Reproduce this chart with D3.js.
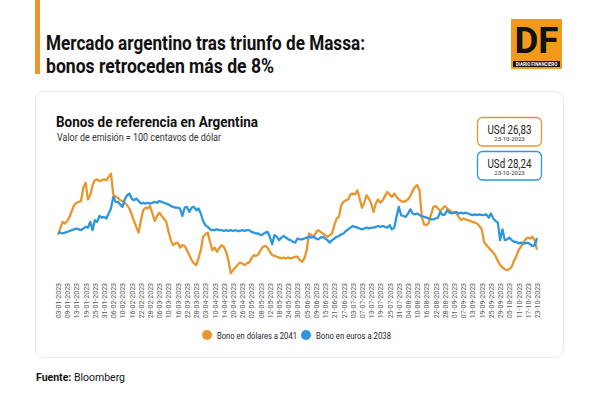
<!DOCTYPE html>
<html><head><meta charset="utf-8">
<script src="https://cdn.jsdelivr.net/npm/d3@7"></script>
<style>body{margin:0;background:#fff;} svg{display:block;font-family:Roboto, "Noto Sans", sans-serif;}</style>
</head><body><svg id="c" width="600" height="400"></svg>
<script>
const tickLabels = ["03-01-2023","09-01-2023","13-01-2023","19-01-2023","25-01-2023","31-01-2023","06-02-2023","10-02-2023","16-02-2023","22-02-2023","28-02-2023","06-03-2023","10-03-2023","16-03-2023","22-03-2023","28-03-2023","03-04-2023","10-04-2023","14-04-2023","20-04-2023","26-04-2023","02-05-2023","08-05-2023","12-05-2023","18-05-2023","24-05-2023","30-05-2023","05-06-2023","09-06-2023","15-06-2023","21-06-2023","27-06-2023","03-07-2023","07-07-2023","13-07-2023","19-07-2023","25-07-2023","31-07-2023","04-08-2023","10-08-2023","16-08-2023","22-08-2023","28-08-2023","01-09-2023","07-09-2023","13-09-2023","19-09-2023","25-09-2023","29-09-2023","05-10-2023","11-10-2023","17-10-2023","23-10-2023"];
const seriesNames = ["Bono en dólares a 2041","Bono en euros a 2038"];
const dolares2041 = [
28.6,29.4,30.2,30.0,30.3,30.8,31.5,32.2,32.5,32.6,
32.7,34.3,34.9,32.9,33.4,34.6,35.2,35.3,35.1,35.2,
35.3,35.2,35.6,36.0,33.5,33.2,33.1,32.8,32.7,32.5,
32.2,31.8,31.1,30.3,29.6,28.9,30.4,31.6,31.9,31.8,
32.1,31.2,30.3,30.9,31.3,30.9,30.6,30.2,29.0,28.0,
27.4,27.6,27.7,27.1,27.4,27.3,26.8,26.2,25.6,25.2,
25.0,25.8,26.8,28.4,28.7,28.9,27.8,26.8,27.1,26.6,
27.0,27.4,27.2,26.6,25.6,24.0,24.4,24.7,25.0,25.3,
25.2,25.0,25.2,25.3,25.8,26.2,26.1,26.3,26.8,27.2,
27.3,27.1,26.6,26.2,26.1,26.0,25.9,25.8,25.9,25.8,
25.9,25.8,25.9,26.0,26.0,25.6,25.4,25.8,26.8,28.8,
28.6,28.4,28.9,29.2,29.0,28.8,28.6,28.4,28.6,28.8,
29.8,30.6,30.8,32.2,32.6,32.8,32.9,33.5,33.6,33.5,
34.0,33.0,31.9,32.5,33.4,33.0,32.4,31.4,32.4,32.9,
32.5,32.8,33.3,33.8,33.5,33.2,33.6,33.2,32.9,32.7,
32.6,32.7,32.9,33.3,33.9,34.4,34.6,34.0,30.7,29.9,
29.8,30.1,31.1,32.0,32.1,31.8,31.5,31.8,32.1,31.8,
31.6,31.4,31.3,31.2,30.8,30.4,30.6,30.5,30.4,30.3,
30.2,30.1,30.0,29.7,29.3,27.8,27.4,27.1,26.8,26.5,
26.1,25.5,25.0,24.7,24.5,24.4,24.5,24.8,25.5,26.1,
26.8,27.2,27.6,28.1,28.3,28.2,28.4,28.0,26.83];
const euros2038 = [
28.9,28.9,28.8,28.9,29.0,29.1,29.2,29.3,29.4,29.3,
29.2,29.4,29.6,29.5,30.2,29.2,30.4,30.2,30.9,30.7,
30.8,30.6,31.2,31.8,33.2,32.6,32.6,32.3,32.0,32.9,
33.4,33.6,33.0,32.8,33.0,32.7,32.4,32.5,32.4,32.5,
32.4,32.5,32.6,32.5,32.7,32.6,32.5,32.4,32.3,32.1,
32.0,31.9,31.9,31.8,30.9,31.9,32.0,31.4,31.9,32.0,
31.6,31.8,31.2,30.3,29.8,29.6,29.3,29.2,29.2,29.3,
29.2,29.2,29.1,29.2,29.1,29.2,29.1,29.2,29.1,29.1,
29.2,29.1,29.2,29.2,29.0,28.9,28.8,28.8,28.6,28.7,
28.9,29.0,28.4,27.5,28.6,28.4,28.0,28.3,28.5,28.3,
28.1,28.0,27.8,27.7,28.2,28.1,28.1,28.2,28.3,28.4,
28.3,28.4,28.2,28.1,28.3,28.4,28.2,28.0,27.7,28.0,
28.2,28.4,28.5,28.7,28.8,29.1,29.3,29.5,29.7,29.6,
29.5,29.4,29.3,29.4,29.5,29.4,29.5,29.5,29.6,29.7,
29.6,29.7,29.6,29.5,29.8,29.3,29.5,30.8,32.0,31.0,
30.9,30.8,31.2,31.7,31.2,31.1,31.2,31.0,30.9,30.8,
30.7,30.6,30.5,30.5,30.6,30.7,31.4,31.0,31.1,31.6,
31.3,31.2,31.3,31.4,31.2,31.3,31.2,31.3,31.2,31.1,
31.0,31.1,31.0,31.1,31.0,31.0,31.1,30.7,31.2,30.6,
30.3,30.1,28.0,29.3,28.0,28.1,28.3,28.0,27.8,27.8,
27.6,27.7,27.6,27.6,27.7,27.5,27.3,27.4,28.24];
const lastLabels = ["USd 26,83","USd 28,24"];
const lastDate = "23-10-2023";
const colors = ["#E8962E","#2D96DD"];

const svg = d3.select("#c");

// header
svg.append("rect").attr("x",35).attr("y",0).attr("width",5).attr("height",74).attr("fill","#E8962E");
svg.append("text").attr("x",46).attr("y",50).attr("font-size",20).attr("font-weight",700).attr("fill","#111")
  .attr("textLength",319).attr("lengthAdjust","spacingAndGlyphs").text("Mercado argentino tras triunfo de Massa:");
svg.append("text").attr("x",46).attr("y",73).attr("font-size",20).attr("font-weight",700).attr("fill","#111")
  .attr("textLength",228).attr("lengthAdjust","spacingAndGlyphs").text("bonos retroceden más de 8%");

// logo
const logo = svg.append("g");
logo.append("rect").attr("x",511).attr("y",19).attr("width",51).attr("height",50).attr("fill","#F39A1E");
logo.append("text").attr("x",536.5).attr("y",53).attr("text-anchor","middle").attr("font-size",36).attr("font-weight",700)
  .attr("fill","#111").attr("textLength",44).attr("lengthAdjust","spacingAndGlyphs").text("DF");
logo.append("rect").attr("x",513).attr("y",61).attr("width",47).attr("height",6).attr("fill","#111");
logo.append("text").attr("x",536.5).attr("y",65.6).attr("text-anchor","middle").attr("font-size",4.5).attr("font-weight",700)
  .attr("fill","#fff").text("DIARIO FINANCIERO");

// card
svg.append("rect").attr("x",35.5).attr("y",91.5).attr("width",528).attr("height",266).attr("rx",8)
  .attr("fill","#fff").attr("stroke","#ebebeb");
svg.append("text").attr("x",56).attr("y",127).attr("font-size",15).attr("font-weight",700).attr("fill","#111")
  .attr("textLength",202).attr("lengthAdjust","spacingAndGlyphs").text("Bonos de referencia en Argentina");
svg.append("text").attr("x",57).attr("y",141).attr("font-size",10).attr("fill","#333")
  .attr("textLength",164).attr("lengthAdjust","spacingAndGlyphs").text("Valor de emisión = 100 centavos de dólar");

// value boxes
const boxY = [117,151];
lastLabels.forEach((t,i)=>{
  svg.append("rect").attr("x",477.5).attr("y",boxY[i]+0.5).attr("width",64).attr("height",28.5).attr("rx",5)
    .attr("fill","#fff").attr("stroke",colors[i]).attr("stroke-width",1.3);
  svg.append("text").attr("x",509.5).attr("y",boxY[i]+16.5).attr("text-anchor","middle").attr("font-size",12).attr("fill","#222")
    .attr("textLength",44).attr("lengthAdjust","spacingAndGlyphs").text(t);
  svg.append("text").attr("x",509.5).attr("y",boxY[i]+24).attr("text-anchor","middle").attr("font-size",6).attr("fill","#333")
    .text(lastDate);
});

// scales
const idx = d3.range(dolares2041.length);
const x = d3.scalePoint().domain(idx).range([58,537]);
const y = d3.scaleLinear().domain([22,38]).range([290,157]);

const line = d3.line().x((d,i)=>x(i)).y(d=>y(d)).curve(d3.curveLinear);
[dolares2041, euros2038].forEach((s,k)=>{
  svg.append("path").datum(s).attr("d",line).attr("fill","none").attr("stroke",colors[k])
    .attr("stroke-width",2.3).attr("stroke-linejoin","round");
});

// x axis
const ax = svg.append("g").attr("transform","translate(0,283)")
  .call(d3.axisBottom(x).tickValues(d3.range(0,idx.length,4)).tickSize(0).tickFormat(i=>tickLabels[i/4]));
ax.select(".domain").remove();
ax.selectAll("text").attr("x",0).attr("y",0).attr("dy","0.35em").attr("transform","rotate(-90)")
  .style("text-anchor","end").attr("font-size",7).attr("fill","#555").attr("font-family","Roboto, sans-serif");

// legend
const lx = [207,306], tw = [80,75];
seriesNames.forEach((n,i)=>{
  svg.append("circle").attr("cx",lx[i]).attr("cy",335).attr("r",5).attr("fill",colors[i]);
  svg.append("text").attr("x",lx[i]+10).attr("y",338.5).attr("font-size",9).attr("fill","#222")
    .attr("textLength",tw[i]).attr("lengthAdjust","spacingAndGlyphs").text(n);
});

// source
const src = svg.append("text").attr("x",36).attr("y",381).attr("font-size",10.5).attr("fill","#111");
src.append("tspan").attr("font-weight",700).text("Fuente:");
src.append("tspan").text(" Bloomberg");
</script></body></html>
